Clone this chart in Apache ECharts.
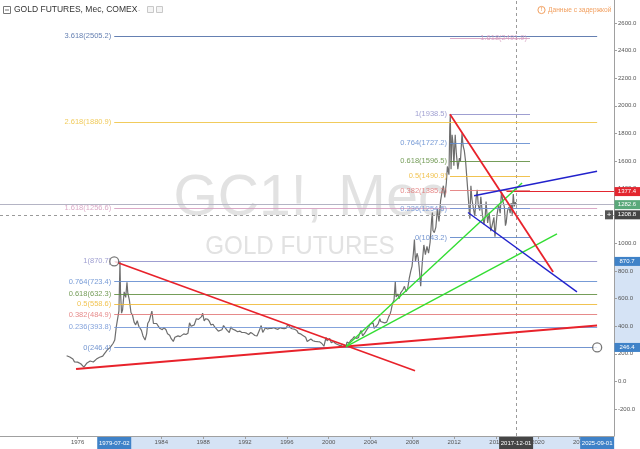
<!DOCTYPE html>
<html><head><meta charset="utf-8">
<script src="https://cdn.jsdelivr.net/npm/echarts@6/dist/echarts.min.js"></script>
<style>html,body{margin:0;padding:0;background:#fff}#c{width:640px;height:449px}</style>
</head><body><div id="c"></div><script>
// ---------- text ----------
const titleText = 'GOLD FUTURES, Мес, COMEX';
const delayText = 'Данные с задержкой';
const watermarkMain = 'GC1!, Мес';
const watermarkSub = 'GOLD FUTURES';

// ---------- ticks ----------
const xTickYears = [1976, 1980, 1984, 1988, 1992, 1996, 2000, 2004, 2008, 2012, 2016, 2020, 2024];
const yTickValues = [-200, 0, 200, 400, 600, 800, 1000, 1200, 1400, 1600, 1800, 2000, 2200, 2400, 2600];

// ---------- price (decimal year, price) ----------
const goldPrice = [
[1974.95,186],[1975.1,178],[1975.25,177],[1975.4,166],[1975.55,162],[1975.7,142],[1975.85,142],[1976.0,140],
[1976.15,132],[1976.3,128],[1976.45,124],[1976.6,104],[1976.75,117],[1976.9,134],
[1977.05,136],[1977.2,148],[1977.35,145],[1977.5,141],[1977.65,146],[1977.8,162],[1977.95,165],
[1978.1,175],[1978.25,181],[1978.4,183],[1978.55,200],[1978.7,215],[1978.85,230],[1978.95,226],
[1979.1,245],[1979.25,240],[1979.4,277],[1979.55,300],[1979.7,397],[1979.85,390],[1979.95,512],
[1980.05,870],[1980.1,650],[1980.2,495],[1980.3,520],[1980.45,650],[1980.6,610],[1980.72,720],[1980.8,640],[1980.95,590],
[1981.1,500],[1981.25,480],[1981.4,430],[1981.55,410],[1981.7,440],[1981.85,400],[1981.95,400],
[1982.1,370],[1982.25,330],[1982.45,300],[1982.6,345],[1982.7,420],[1982.85,440],[1982.95,450],
[1983.1,510],[1983.25,420],[1983.4,430],[1983.55,420],[1983.7,410],[1983.85,385],[1983.95,380],
[1984.1,375],[1984.25,390],[1984.45,375],[1984.6,345],[1984.8,335],[1984.95,310],
[1985.15,290],[1985.3,320],[1985.45,317],[1985.6,330],[1985.8,325],[1985.95,330],
[1986.15,345],[1986.35,340],[1986.55,350],[1986.7,425],[1986.85,400],[1986.95,392],
[1987.15,410],[1987.35,455],[1987.55,450],[1987.7,460],[1987.85,470],[1987.95,495],
[1988.1,440],[1988.25,455],[1988.45,450],[1988.6,435],[1988.75,410],[1988.95,415],
[1989.1,395],[1989.25,385],[1989.45,365],[1989.6,375],[1989.8,375],[1989.95,405],
[1990.1,415],[1990.3,370],[1990.5,355],[1990.65,395],[1990.8,380],[1990.95,392],
[1991.1,370],[1991.3,360],[1991.5,365],[1991.7,355],[1991.95,355],
[1992.15,350],[1992.35,340],[1992.55,355],[1992.75,345],[1992.95,333],
[1993.15,330],[1993.35,365],[1993.55,405],[1993.7,355],[1993.85,375],[1993.95,390],
[1994.15,380],[1994.35,385],[1994.55,385],[1994.75,390],[1994.95,383],
[1995.15,378],[1995.35,390],[1995.55,385],[1995.75,383],[1995.95,387],
[1996.1,415],[1996.3,392],[1996.5,382],[1996.7,380],[1996.95,370],
[1997.1,350],[1997.3,345],[1997.5,335],[1997.65,325],[1997.8,320],[1997.95,290],
[1998.1,300],[1998.3,308],[1998.5,295],[1998.7,290],[1998.85,295],[1998.95,288],
[1999.15,287],[1999.35,275],[1999.55,255],[1999.75,320],[1999.85,295],[1999.95,290],
[2000.1,312],[2000.25,280],[2000.45,290],[2000.65,275],[2000.85,268],[2000.95,272],
[2001.15,258],[2001.35,270],[2001.5,268],[2001.66,256],[2001.75,285],[2001.95,278],
[2002.1,297],[2002.3,310],[2002.45,325],[2002.65,312],[2002.85,318],[2002.95,345],
[2003.1,370],[2003.25,330],[2003.45,350],[2003.65,375],[2003.8,390],[2003.95,415],
[2004.1,420],[2004.25,425],[2004.35,385],[2004.55,400],[2004.75,420],[2004.9,455],[2004.97,435],
[2005.15,430],[2005.35,425],[2005.55,430],[2005.75,470],[2005.9,495],[2005.97,515],
[2006.1,565],[2006.25,590],[2006.37,725],[2006.45,612],[2006.6,635],[2006.75,600],[2006.9,645],[2006.97,635],
[2007.1,665],[2007.25,690],[2007.4,650],[2007.55,670],[2007.7,745],[2007.85,800],[2007.97,835],
[2008.1,930],[2008.2,1030],[2008.3,870],[2008.45,930],[2008.55,900],[2008.65,830],[2008.8,690],[2008.9,810],[2008.97,880],
[2009.1,990],[2009.25,920],[2009.4,980],[2009.55,930],[2009.7,1010],[2009.85,1180],[2009.92,1225],[2009.97,1095],
[2010.1,1080],[2010.25,1120],[2010.4,1250],[2010.55,1160],[2010.7,1310],[2010.85,1380],[2010.97,1420],
[2011.1,1335],[2011.25,1440],[2011.35,1560],[2011.5,1500],[2011.58,1840],[2011.63,1938],[2011.7,1540],[2011.8,1790],[2011.9,1720],[2011.97,1565],
[2012.1,1790],[2012.2,1660],[2012.35,1540],[2012.5,1620],[2012.6,1600],[2012.75,1800],[2012.85,1710],[2012.97,1675],
[2013.1,1590],[2013.2,1600],[2013.3,1385],[2013.45,1230],[2013.5,1180],[2013.6,1420],[2013.7,1320],[2013.85,1250],[2013.97,1200],
[2014.1,1330],[2014.2,1390],[2014.3,1280],[2014.45,1240],[2014.55,1340],[2014.7,1210],[2014.85,1140],[2014.97,1200],
[2015.05,1305],[2015.2,1150],[2015.35,1225],[2015.5,1090],[2015.65,1140],[2015.8,1190],[2015.9,1050],[2015.97,1060],
[2016.1,1210],[2016.25,1285],[2016.4,1220],[2016.52,1375],[2016.65,1310],[2016.8,1265],[2016.9,1130],[2016.97,1150],
[2017.1,1240],[2017.25,1265],[2017.35,1220],[2017.45,1295],[2017.55,1210],[2017.65,1360],[2017.75,1270],[2017.85,1300],[2017.97,1282.6]
];

// ---------- Fibonacci tools ----------
const fib1Levels = [0, 0.236, 0.382, 0.5, 0.618, 0.764, 1, 1.618, 2.618, 3.618];
const fib1Values = [246.4, 393.8, 484.9, 558.6, 632.3, 723.4, 870.7, 1256.6, 1880.9, 2505.2];
const fib1Span = [1979.5, 2025.67];
const fib2Levels = [0, 0.236, 0.382, 0.5, 0.618, 0.764, 1, 1.618];
const fib2Values = [1043.2, 1254.6, 1385.2, 1490.9, 1596.5, 1727.2, 1938.5, 2491.9];
const fib2Span = [2011.6, 2019.25];
const fibAnchors = [[1979.5, 870.7], [2025.67, 246.4]];

// ---------- trend lines ----------
const redSupport = [[1975.85, 90], [2025.66, 405]];
const redFall1979 = [[1979.6, 868], [2008.26, 78]];
const greenSteep = [[2001.66, 253], [2018.49, 1440]];
const greenShallow = [[2001.66, 253], [2021.83, 1070]];
const redFall2011 = [[2011.6, 1938.5], [2021.46, 794]];
const blueUpper = [[2013.9, 1347], [2025.66, 1525]];
const blueLower = [[2013.32, 1226], [2023.74, 650]];

// ---------- price markers ----------
const alertPrice = 1377.4, alertStart = 2017.0;
const lastPrice = 1282.6;
const crossPrice = 1208.8, crossDate = 2017.92;
const yMarkers = [[870.7, 'blue'], [246.4, 'blue'], [1377.4, 'red'], [1282.6, 'green'], [1208.8, 'dark']];
const xMarkers = [[1979.5, '1979-07-02', 'blue'], [2017.92, '2017-12-01', 'dark'], [2025.67, '2025-09-01', 'blue']];

// ---------- styling ----------
const FONT = 'Liberation Sans, Arial, sans-serif';
const fibColor = {
  '0': '#5b82c8', '0.236': '#6f93d6', '0.382': '#e27575', '0.5': '#efb933',
  '0.618': '#5d8c3c', '0.764': '#5f89cf', '1': '#8e8ec9', '1.618': '#d49abd',
  '2.618': '#efc23f', '3.618': '#4a6aa5'
};
const boxColor = { blue: '#3f82c8', red: '#e3262f', green: '#5aa97a', dark: '#454545' };

function fibMarkLines(levels, values, span, special) {
  return levels.map((lv, i) => {
    const c = fibColor[String(lv)];
    const lbl = { show: true, position: 'start', distance: 3, color: c, fontSize: 7.5, fontFamily: FONT,
      formatter: String(lv) + '(' + values[i].toFixed(1) + ')' };
    if (special && special[String(lv)]) Object.assign(lbl, special[String(lv)]);
    return [
      { coord: [span[0], values[i]], lineStyle: { color: c, width: 1, type: 'solid', opacity: 0.85 }, label: lbl },
      { coord: [span[1], values[i]] }
    ];
  });
}

function trend(data, color, width) {
  return { type: 'line', data: data, symbol: 'none', silent: true, z: 6,
    lineStyle: { color: color, width: width }, animation: false };
}

const chart = echarts.init(document.getElementById('c'), null, { renderer: 'canvas' });

const option = {
  animation: false,
  backgroundColor: '#fff',
  grid: { left: 0, right: 26, top: 0, bottom: 13, containLabel: false, outerBoundsMode: 'none' },
  xAxis: {
    type: 'value', min: 1968.58, max: 2027.28,
    axisLine: { show: true, onZero: false, lineStyle: { color: '#a0a0a0' } },
    axisTick: { show: true, customValues: xTickYears, length: 3, lineStyle: { color: '#a0a0a0' } },
    axisLabel: { customValues: xTickYears, formatter: v => String(Math.round(v)), fontSize: 6, color: '#555', margin: 3, fontFamily: FONT },
    splitLine: { show: false }
  },
  yAxis: {
    type: 'value', position: 'right', min: -396.2, max: 2767.6,
    axisLine: { show: true, onZero: false, lineStyle: { color: '#a0a0a0' } },
    axisTick: { show: true, customValues: yTickValues, length: 3, lineStyle: { color: '#a0a0a0' } },
    axisLabel: { customValues: yTickValues, formatter: v => Number(v).toFixed(1), fontSize: 6, color: '#555', margin: 4, fontFamily: FONT },
    splitLine: { show: false }
  },
  series: [
    { // price
      type: 'line', data: goldPrice, symbol: 'none', z: 3, silent: true,
      lineStyle: { color: '#6e6e6e', width: 1.2 },
      markLine: {
        silent: true, symbol: ['none', 'none'], animation: false,
        label: { show: false },
        data: [
          [{ coord: [1968.58, lastPrice], lineStyle: { color: '#b4b4c4', width: 1, type: 'solid' } }, { coord: [2027.28, lastPrice] }],
          [{ coord: [1968.58, crossPrice], lineStyle: { color: '#9a9a9a', width: 1, type: [3, 3] } }, { coord: [2027.28, crossPrice] }],
          [{ coord: [crossDate, -396.2], lineStyle: { color: '#9a9a9a', width: 1, type: [3, 3] } }, { coord: [crossDate, 2767.6] }],
          [{ coord: [alertStart, alertPrice], lineStyle: { color: '#e3262f', width: 1, type: 'solid' } }, { coord: [2027.28, alertPrice] }]
        ]
      }
    },
    { // fib tool 1
      type: 'line', data: [], z: 4,
      markLine: { silent: true, symbol: ['none', 'none'], animation: false,
        data: fibMarkLines(fib1Levels, fib1Values, fib1Span) }
    },
    { // fib tool 2
      type: 'line', data: [], z: 4,
      markLine: { silent: true, symbol: ['none', 'none'], animation: false,
        data: fibMarkLines(fib2Levels, fib2Values, fib2Span, { '1.618': { offset: [80, 0] } }) }
    },
    trend(redSupport, '#e8222b', 2),
    trend(redFall1979, '#e8222b', 1.6),
    trend(greenSteep, '#33dd33', 1.4),
    trend(greenShallow, '#33dd33', 1.4),
    trend(redFall2011, '#e8222b', 1.8),
    trend(blueUpper, '#2222cc', 1.4),
    trend(blueLower, '#2222cc', 1.4),
    { type: 'scatter', data: fibAnchors, symbol: 'circle', symbolSize: 9, z: 10, silent: true,
      itemStyle: { color: '#ffffff', borderColor: '#555', borderWidth: 1.3 } }
  ]
};
chart.setOption(option);

// ---------- overlays positioned through the axes ----------
const py = v => chart.convertToPixel({ yAxisIndex: 0 }, v);
const pxX = v => chart.convertToPixel({ xAxisIndex: 0 }, v);
const axisX = pxX(2027.28);
const axisY = py(-396.2);
const g = [];

// watermark
g.push({ type: 'text', x: 310, y: 199, z: -5, silent: true,
  style: { text: watermarkMain, fill: '#e2e2e2', font: '57px ' + FONT, align: 'center', verticalAlign: 'middle' } });
g.push({ type: 'text', x: 300, y: 247, z: -5, silent: true, scaleX: 0.93,
  style: { text: watermarkSub, fill: '#e2e2e2', font: '26px ' + FONT, align: 'center', verticalAlign: 'middle' } });

// axis bands
g.push({ type: 'rect', z: -1, silent: true,
  shape: { x: axisX + 0.5, y: py(870.7), width: 640 - axisX, height: py(246.4) - py(870.7) },
  style: { fill: '#d5e3f5' } });
g.push({ type: 'rect', z: -1, silent: true,
  shape: { x: pxX(1979.5), y: axisY + 0.5, width: pxX(2025.67) - pxX(1979.5), height: 449 - axisY },
  style: { fill: '#d5e3f5' } });

// y-axis value boxes
yMarkers.forEach(([v, col]) => {
  const y = py(v);
  g.push({ type: 'rect', z: 100, silent: true, shape: { x: axisX + 0.5, y: y - 4.5, width: 640 - axisX, height: 9 },
    style: { fill: boxColor[col] } });
  g.push({ type: 'text', z: 101, silent: true, x: axisX + 13, y: y,
    style: { text: v.toFixed(1), fill: '#fff', font: '6px ' + FONT, align: 'center', verticalAlign: 'middle' } });
});
// "+" button next to the crosshair value
g.push({ type: 'rect', z: 100, silent: true, shape: { x: axisX - 9, y: py(crossPrice) - 4.5, width: 8, height: 9 },
  style: { fill: '#555' } });
g.push({ type: 'text', z: 101, silent: true, x: axisX - 5, y: py(crossPrice),
  style: { text: '+', fill: '#fff', font: '8px ' + FONT, align: 'center', verticalAlign: 'middle' } });

// x-axis date boxes
xMarkers.forEach(([d, txt, col]) => {
  const x = pxX(d);
  g.push({ type: 'rect', z: 100, silent: true, shape: { x: x - 17, y: axisY + 1, width: 34, height: 12 },
    style: { fill: boxColor[col] } });
  g.push({ type: 'text', z: 101, silent: true, x: x, y: axisY + 7,
    style: { text: txt, fill: '#fff', font: '6px ' + FONT, align: 'center', verticalAlign: 'middle' } });
});

// header
g.push({ type: 'rect', z: 100, silent: true, shape: { x: 3.5, y: 6.5, width: 7, height: 7 },
  style: { fill: '#fff', stroke: '#777', lineWidth: 1 } });
g.push({ type: 'line', z: 101, silent: true, shape: { x1: 5, y1: 10, x2: 9, y2: 10 }, style: { stroke: '#777', lineWidth: 1 } });
g.push({ type: 'text', z: 100, silent: true, x: 14, y: 10,
  style: { text: titleText, fill: '#333', font: '8.5px ' + FONT, align: 'left', verticalAlign: 'middle' } });
g.push({ type: 'text', z: 100, silent: true, x: 138, y: 10,
  style: { text: '-', fill: '#bbb', font: '7px ' + FONT, align: 'left', verticalAlign: 'middle' } });
g.push({ type: 'rect', z: 100, silent: true, shape: { x: 147.5, y: 6.5, width: 6, height: 6 },
  style: { fill: '#f4f4f4', stroke: '#c8c8c8', lineWidth: 1 } });
g.push({ type: 'rect', z: 100, silent: true, shape: { x: 156.5, y: 6.5, width: 6, height: 6 },
  style: { fill: '#f4f4f4', stroke: '#c8c8c8', lineWidth: 1 } });
g.push({ type: 'circle', z: 100, silent: true, shape: { cx: 541.5, cy: 10, r: 3.6 },
  style: { fill: '#fff', stroke: '#f2a060', lineWidth: 1 } });
g.push({ type: 'text', z: 101, silent: true, x: 541.5, y: 10,
  style: { text: '!', fill: '#f2a060', font: 'bold 5px ' + FONT, align: 'center', verticalAlign: 'middle' } });
g.push({ type: 'text', z: 100, silent: true, x: 548, y: 10,
  style: { text: delayText, fill: '#f2a060', font: '6.6px ' + FONT, align: 'left', verticalAlign: 'middle' } });

chart.setOption({ graphic: { elements: g } });
</script></body></html>
